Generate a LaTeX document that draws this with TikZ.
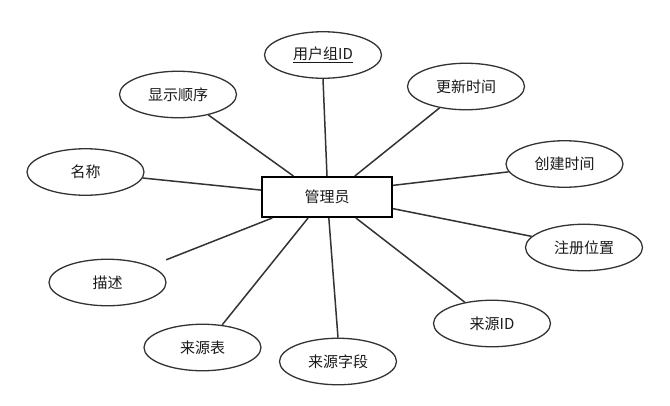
\documentclass[tikz,border=0pt]{standalone}
\usepackage{fontspec}
\setmainfont{Noto Sans CJK SC}
\usetikzlibrary{shapes.geometric}
\begin{document}
\begin{tikzpicture}[x=1pt,y=-1pt,
  attr/.style={ellipse,draw=black!80,line width=1.3pt,minimum width=117pt,minimum height=46.5pt,inner sep=0pt,font=\fontsize{15}{18}\selectfont,text=black!90},
  entity/.style={rectangle,draw=black,line width=2pt,minimum width=130pt,minimum height=40pt,inner sep=0pt,font=\fontsize{15}{18}\selectfont,text=black!90},
  link/.style={draw=black!80,line width=1.5pt}]
\useasboundingbox (0,0) rectangle (670,405);
\node[entity] (m) at (327,197) {管理员};
\node[attr] (u) at (323,55) {\underline{用户组ID}};
\node[attr] (x) at (178,94.5) {显示顺序};
\node[attr] (n) at (85.5,172) {名称};
\node[attr] (d) at (107.5,282.5) {描述};
\node[attr] (t) at (202.5,347.5) {来源表};
\node[attr] (f) at (338,361.5) {来源字段};
\node[attr] (i) at (492,323.5) {来源ID};
\node[attr] (r) at (584,247.5) {注册位置};
\node[attr] (c) at (564.5,164) {创建时间};
\node[attr] (g) at (466,86.5) {更新时间};
\draw[link] (m.north) -- (u.south);
\draw[link] (m.148) -- (x.326);
\draw[link] (m.174) -- (n.354);
\draw[link,shorten >=17pt] (m.201) -- (d.21);
\draw[link] (m.228) -- (t.49);
\draw[link] (m.275) -- (f.north);
\draw[link] (m.324) -- (i.142);
\draw[link] (m.350) -- (r.168);
\draw[link] (m.10) -- (c.188);
\draw[link] (m.37) -- (g.219);
\end{tikzpicture}
\end{document}
